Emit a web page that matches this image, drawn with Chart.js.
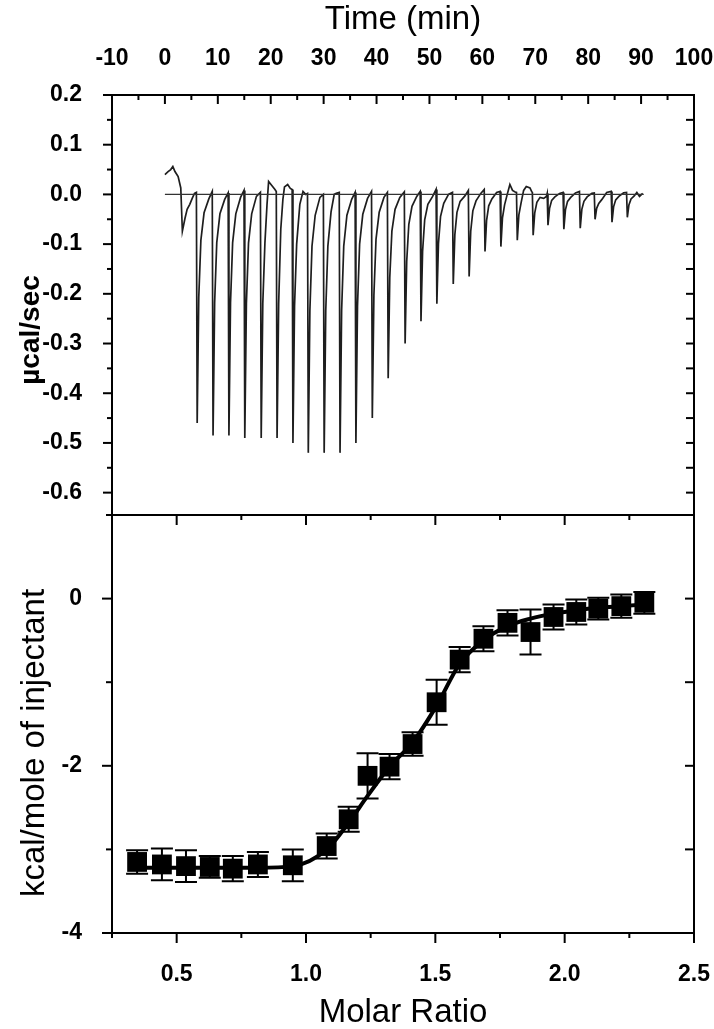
<!DOCTYPE html>
<html>
<head>
<meta charset="utf-8">
<script src="https://cdn.jsdelivr.net/npm/chart.js@4.4.1/dist/chart.umd.min.js"></script>
<style>
html,body{margin:0;padding:0;background:#fff;}
#wrap{position:relative;width:714px;height:1029px;overflow:hidden;background:#fff;}
#topChart{position:absolute;left:0;top:0;}
#botChart{position:absolute;left:0;top:500px;}
</style>
</head>
<body>
<div id="wrap">
<canvas id="topChart" width="714" height="516"></canvas>
<canvas id="botChart" width="714" height="529"></canvas>
</div>
<script>
// ---------- Top panel: raw thermogram (time in min, signal in µcal/sec) ----------
const traceTime = [
  0, 0.6, 1.1, 1.5, 1.9, 2.5, 3.0, 3.3, 3.8, 4.2, 4.7, 5.2, 5.6,
  5.95, 6.1, 6.4, 6.8, 7.4, 8.3,
  8.95, 9.1, 9.4, 9.8, 10.4, 11.3,
  11.95, 12.1, 12.4, 12.8, 13.4, 14.3,
  14.95, 15.1, 15.4, 15.8, 16.4, 17.3,
  18.05, 18.2, 18.5, 18.9, 19.3, 19.6, 20.2, 20.8,
  21.05, 21.2, 21.5, 21.9, 22.3, 22.6, 23.2, 23.7,
  24.05, 24.2, 24.5, 24.9, 25.5, 26.1, 26.6,
  26.95, 27.1, 27.4, 27.8, 28.4, 29.3,
  29.95, 30.1, 30.4, 30.8, 31.4, 32.0, 32.4,
  32.95, 33.1, 33.4, 33.8, 34.4, 35.3,
  35.95, 36.1, 36.4, 36.8, 37.4, 38.3,
  39.05, 39.2, 39.5, 39.9, 40.5, 41.4,
  42.05, 42.2, 42.5, 42.9, 43.5, 44.4,
  45.25, 45.4, 45.7, 46.1, 46.7, 47.6,
  48.25, 48.4, 48.7, 49.1, 49.7, 50.6,
  51.25, 51.4, 51.7, 52.1, 52.7, 53.6,
  54.35, 54.5, 54.8, 55.2, 55.8, 56.7,
  57.35, 57.5, 57.8, 58.2, 58.8, 59.7,
  60.35, 60.5, 60.8, 61.2, 61.8, 62.7,
  63.35, 63.5, 63.8, 64.2, 64.7, 65.2, 65.7, 66.2,
  66.45, 66.6, 66.9, 67.3, 67.8, 68.3, 69.0, 69.3,
  69.45, 69.6, 69.9, 70.3, 70.9, 71.6, 72.1,
  72.25, 72.4, 72.7, 73.1, 73.7, 74.6,
  75.25, 75.4, 75.7, 76.1, 76.7, 77.6,
  78.35, 78.5, 78.8, 79.2, 79.8, 80.7,
  81.15, 81.3, 81.6, 82.0, 82.6, 83.5,
  84.35, 84.5, 84.8, 85.2, 85.8, 86.7,
  87.25, 87.4, 87.7, 88.1, 88.7, 89.2, 89.7, 90.3
];
const traceSignal = [
  0.040, 0.046, 0.050, 0.056, 0.046, 0.036, 0.013, -0.074, -0.048, -0.030, -0.020, -0.007, 0.002,
  0.004, -0.46, -0.207, -0.092, -0.037, -0.009,
  0.006, -0.485, -0.218, -0.097, -0.039, -0.010,
  0.003, -0.485, -0.218, -0.097, -0.039, -0.006,
  0.008, -0.49, -0.220, -0.098, -0.039, -0.004,
  0.004, -0.49, -0.220, -0.098, -0.020, 0.026, 0.018, 0.010,
  0.006, -0.49, -0.220, -0.070, -0.010, 0.015, 0.020, 0.012,
  0.010, -0.50, -0.225, -0.100, -0.020, 0.006, 0.000,
  0.002, -0.52, -0.234, -0.104, -0.042, -0.006,
  0.000, -0.52, -0.234, -0.104, -0.035, 0.000, 0.002,
  0.004, -0.52, -0.234, -0.104, -0.042, -0.010,
  0.004, -0.50, -0.225, -0.100, -0.040, -0.008,
  0.006, -0.45, -0.203, -0.090, -0.036, -0.006,
  0.004, -0.37, -0.167, -0.074, -0.030, -0.006,
  0.005, -0.30, -0.135, -0.060, -0.024, -0.004,
  0.006, -0.255, -0.115, -0.051, -0.020, -0.004,
  0.010, -0.22, -0.099, -0.044, -0.018, 0.000,
  0.004, -0.18, -0.081, -0.036, -0.014, -0.003,
  0.008, -0.165, -0.074, -0.033, -0.013, 0.002,
  0.010, -0.115, -0.052, -0.023, -0.009, 0.004,
  0.006, -0.105, -0.047, -0.021, 0.000, 0.020, 0.008, 0.005,
  0.004, -0.092, -0.041, -0.018, 0.008, 0.016, 0.013, 0.006,
  0.004, -0.082, -0.037, -0.016, -0.006, -0.008, -0.004,
  0.002, -0.062, -0.028, -0.012, -0.005, 0.002,
  0.004, -0.070, -0.031, -0.014, -0.006, 0.003,
  0.006, -0.068, -0.030, -0.014, -0.005, 0.002,
  0.003, -0.050, -0.028, -0.018, -0.010, 0.004,
  0.006, -0.056, -0.025, -0.011, -0.004, 0.003,
  0.004, -0.046, -0.021, -0.009, -0.003, 0.004, -0.004, 0.002
];
const baselineTime = [0, 90.5];
const baselineSignal = [0, 0];

// ---------- Bottom panel: integrated heats ----------
const molarRatio = [0.347, 0.443, 0.536, 0.628, 0.717, 0.814, 0.949, 1.080, 1.165, 1.238, 1.323,
                    1.412, 1.505, 1.594, 1.686, 1.779, 1.868, 1.957, 2.045, 2.130, 2.219, 2.308];
const heat = [-3.15, -3.18, -3.20, -3.21, -3.23, -3.18, -3.19, -2.96, -2.64, -2.12, -2.01,
              -1.74, -1.24, -0.73, -0.48, -0.29, -0.40, -0.22, -0.16, -0.12, -0.09, -0.05];
const heatErr = [0.14, 0.19, 0.19, 0.13, 0.15, 0.15, 0.19, 0.15, 0.15, 0.27, 0.15,
                 0.14, 0.27, 0.15, 0.15, 0.15, 0.27, 0.15, 0.15, 0.13, 0.14, 0.13];
const fitHeat = [-3.22, -3.22, -3.22, -3.22, -3.22, -3.22, -3.20, -3.00, -2.68, -2.36, -2.01,
                 -1.72, -1.28, -0.78, -0.50, -0.33, -0.24, -0.18, -0.14, -0.11, -0.09, -0.07];

// ---------- Axis text ----------
const topXTitle = 'Time (min)';
const topYTitle = 'µcal/sec';
const botXTitle = 'Molar Ratio';
const botYTitle = 'kcal/mole of injectant';

const FAMILY = '"Liberation Sans", Arial, Helvetica, sans-serif';
const tickFont = {family: FAMILY, size: 23, weight: 'bold'};
const titleFont = {family: FAMILY, size: 33, weight: 'normal', lineHeight: 1};

function minorValues(scale) {
  const t = scale.ticks.map(o => o.value);
  if (t.length < 2) return [];
  const step = t[1] - t[0];
  const eps = Math.abs(step) * 1e-6;
  const out = [];
  for (let v = t[0] - step / 2; v <= scale.max + eps; v += step) {
    if (v >= scale.min - eps) out.push(v);
  }
  return out;
}

function zeroPad(s) { s.paddingTop = 0; s.paddingBottom = 0; s.paddingLeft = 0; s.paddingRight = 0; }

function framePlugin(spec) {
  return {
    id: 'frameTicks',
    afterDraw(chart) {
      const {ctx, chartArea: a, scales} = chart;
      ctx.save();
      ctx.strokeStyle = '#000';
      ctx.lineWidth = 2;
      ctx.strokeRect(a.left, a.top, a.right - a.left, a.bottom - a.top);
      const seg = (x1, y1, x2, y2) => { ctx.beginPath(); ctx.moveTo(x1, y1); ctx.lineTo(x2, y2); ctx.stroke(); };
      spec.forEach(s => {
        const sc = scales[s.axis];
        const majors = sc.ticks.map(o => o.value);
        const minors = minorValues(sc);
        [[majors, s.major], [minors, s.minor]].forEach(([vals, len]) => {
          vals.forEach(v => {
            const p = sc.getPixelForValue(v);
            if (s.side === 'top') { const d = s.inward ? 1 : -1; seg(p, a.top, p, a.top + d * len); }
            if (s.side === 'bottom') { const d = s.inward ? -1 : 1; seg(p, a.bottom, p, a.bottom + d * len); }
            if (s.side === 'left') { const d = s.inward ? 1 : -1; seg(a.left, p, a.left + d * len, p); }
            if (s.side === 'right') { const d = s.inward ? -1 : 1; seg(a.right, p, a.right + d * len, p); }
          });
        });
      });
      ctx.restore();
    }
  };
}

function yTitlePlugin(text, x, y, font) {
  return {
    id: 'yTitle',
    afterDraw(chart) {
      const c = chart.ctx;
      c.save();
      c.translate(x, y);
      c.rotate(-Math.PI / 2);
      c.font = font;
      c.fillStyle = '#000';
      c.textAlign = 'center';
      c.textBaseline = 'middle';
      c.fillText(text, 0, 0);
      c.restore();
    }
  };
}

const errorBarPlugin = {
  id: 'errorBars',
  beforeDatasetsDraw(chart) {
    const {ctx, scales: {x, y}} = chart;
    ctx.save();
    ctx.strokeStyle = '#000';
    ctx.lineWidth = 2;
    molarRatio.forEach((m, i) => {
      const px = x.getPixelForValue(m);
      const y1 = y.getPixelForValue(heat[i] + heatErr[i]);
      const y2 = y.getPixelForValue(heat[i] - heatErr[i]);
      ctx.beginPath();
      ctx.moveTo(px, y1); ctx.lineTo(px, y2);
      ctx.moveTo(px - 11, y1); ctx.lineTo(px + 11, y1);
      ctx.moveTo(px - 11, y2); ctx.lineTo(px + 11, y2);
      ctx.stroke();
    });
    ctx.restore();
  }
};

const fmt1 = v => (Math.abs(v) < 1e-9 ? '0.0' : v.toFixed(1));

new Chart(document.getElementById('topChart'), {
  type: 'line',
  data: {
    datasets: [
      {data: baselineTime.map((t, i) => ({x: t, y: baselineSignal[i]})), borderColor: '#333', borderWidth: 1.2, pointRadius: 0},
      {data: traceTime.map((t, i) => ({x: t, y: traceSignal[i]})), borderColor: '#1e1e1e', borderWidth: 1.7, pointRadius: 0, tension: 0}
    ]
  },
  options: {
    responsive: false, animation: false, devicePixelRatio: 1, events: [],
    layout: {padding: {left: 0, right: 20, top: 0, bottom: 1}},
    plugins: {legend: {display: false}, tooltip: {enabled: false}},
    scales: {
      x: {
        type: 'linear', position: 'top', min: -10, max: 100,
        ticks: {stepSize: 10, includeBounds: false, padding: 15, font: tickFont, color: '#000', maxRotation: 0, autoSkip: false,
                callback: v => String(Math.round(v))},
        grid: {display: false}, border: {display: false},
        title: {display: true, text: topXTitle, font: titleFont, color: '#000', padding: {top: 3, bottom: 0}},
        afterFit(s) { s.height = 95; zeroPad(s); }
      },
      y: {
        type: 'linear', min: -0.645, max: 0.2,
        ticks: {stepSize: 0.1, includeBounds: false, padding: 22, font: tickFont, color: '#000', autoSkip: false, callback: fmt1},
        grid: {display: false}, border: {display: false},
        afterFit(s) { s.width = 112; zeroPad(s); }
      }
    }
  },
  plugins: [
    framePlugin([
      {axis: 'x', side: 'top', inward: true, major: 9, minor: 5},
      {axis: 'y', side: 'left', inward: false, major: 9, minor: 5},
      {axis: 'y', side: 'right', inward: true, major: 8, minor: 8}
    ]),
    yTitlePlugin(topYTitle, 31, 330, 'bold 28px ' + FAMILY)
  ]
});

new Chart(document.getElementById('botChart'), {
  type: 'line',
  data: {
    datasets: [
      {data: molarRatio.map((m, i) => ({x: m, y: heat[i]})), showLine: false, pointStyle: 'rect', pointRadius: 14,
       backgroundColor: '#000', borderColor: '#000', borderWidth: 0},
      {data: molarRatio.map((m, i) => ({x: m, y: fitHeat[i]})), borderColor: '#000', borderWidth: 4, pointRadius: 0,
       cubicInterpolationMode: 'monotone'}
    ]
  },
  options: {
    responsive: false, animation: false, devicePixelRatio: 1, events: [],
    layout: {padding: {left: 0, right: 20, top: 15, bottom: 0}},
    plugins: {legend: {display: false}, tooltip: {enabled: false}},
    scales: {
      x: {
        type: 'linear', position: 'bottom', min: 0.25, max: 2.5,
        ticks: {stepSize: 0.5, includeBounds: false, padding: 20, font: tickFont, color: '#000', maxRotation: 0, autoSkip: false,
                callback: v => v.toFixed(1)},
        grid: {display: false}, border: {display: false},
        title: {display: true, text: botXTitle, font: titleFont, color: '#000', padding: {top: 0, bottom: 0}},
        afterFit(s) { s.height = 96; zeroPad(s); }
      },
      y: {
        type: 'linear', min: -4, max: 1,
        ticks: {stepSize: 2, includeBounds: false, padding: 22, font: tickFont, color: '#000', autoSkip: false,
                callback: v => String(Math.round(v))},
        grid: {display: false}, border: {display: false},
        afterFit(s) { s.width = 112; zeroPad(s); }
      }
    }
  },
  plugins: [
    errorBarPlugin,
    framePlugin([
      {axis: 'x', side: 'bottom', inward: false, major: 10, minor: 5},
      {axis: 'x', side: 'top', inward: true, major: 10, minor: 5},
      {axis: 'y', side: 'left', inward: false, major: 10, minor: 6},
      {axis: 'y', side: 'right', inward: true, major: 9, minor: 9}
    ]),
    yTitlePlugin(botYTitle, 35, 243, '33px ' + FAMILY)
  ]
});
</script>
</body>
</html>
